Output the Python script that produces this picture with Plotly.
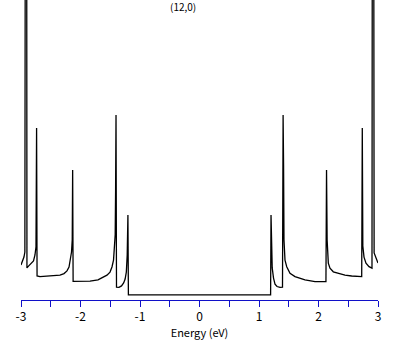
import plotly.graph_objects as go

# Density of states of a (12,0) nanotube
energy = [
    -3.000, -2.975, -2.950, -2.935, -2.927, -2.905, -2.900, -2.874, -2.832, -2.790,
    -2.765, -2.748, -2.738, -2.730, -2.681, -2.597, -2.513, -2.429, -2.345, -2.277,
    -2.227, -2.193, -2.168, -2.151, -2.139, -2.132, -2.124, -2.008, -1.840, -1.706,
    -1.622, -1.555, -1.504, -1.471, -1.445, -1.429, -1.417, -1.410, -1.403, -1.395,
    -1.353, -1.311, -1.275, -1.250, -1.230, -1.215, -1.203, -1.195,
    1.195, 1.202, 1.212, 1.222, 1.244, 1.269, 1.303, 1.353, 1.395, 1.405,
    1.413, 1.420, 1.437, 1.466, 1.521, 1.605, 1.773, 1.941, 2.125, 2.135,
    2.145, 2.165, 2.193, 2.249, 2.333, 2.445, 2.558, 2.726, 2.736, 2.745,
    2.765, 2.798, 2.849, 2.899, 2.905, 2.927, 2.935, 2.960, 2.990, 3.000,
]
dos = [
    1.17, 1.30, 1.43, 1.60, 15.0, 15.0, 1.07, 1.13, 1.20, 1.30,
    1.50, 1.77, 5.73, 0.80, 0.78, 0.79, 0.80, 0.82, 0.83, 0.88,
    0.97, 1.10, 1.33, 1.60, 2.00, 4.33, 0.62, 0.62, 0.63, 0.67,
    0.75, 0.83, 0.93, 1.10, 1.33, 1.67, 2.17, 3.67, 6.17, 0.43,
    0.42, 0.47, 0.57, 0.70, 0.93, 1.50, 2.83, 0.17,
    0.17, 2.83, 1.50, 1.07, 0.73, 0.53, 0.45, 0.42, 0.43, 6.17,
    4.50, 2.00, 1.33, 1.11, 0.89, 0.78, 0.67, 0.61, 0.61, 4.33,
    2.00, 1.23, 1.06, 0.94, 0.89, 0.83, 0.80, 0.78, 5.73, 1.80,
    1.43, 1.23, 1.11, 1.06, 15.0, 15.0, 1.57, 1.40, 1.28, 1.23,
]

tick_vals = [-3, -2.5, -2, -1.5, -1, -0.5, 0, 0.5, 1, 1.5, 2, 2.5, 3]
tick_text = ["-3", "", "-2", "", "-1", "", "0", "", "1", "", "2", "", "3"]
title_text = "(12,0)"
x_title = "Energy (eV)"

fig = go.Figure()
fig.add_trace(go.Scatter(
    x=energy, y=dos, mode="lines",
    line=dict(color="black", width=1.3),
    hoverinfo="skip", showlegend=False,
))

fig.update_layout(
    width=409, height=345,
    margin=dict(l=21, r=31, t=0, b=45, pad=0),
    paper_bgcolor="white", plot_bgcolor="white",
    font=dict(family="Noto Sans CJK JP, sans-serif", color="black", size=11),
    xaxis=dict(
        range=[-3, 3], showgrid=False, zeroline=False,
        showline=True, linecolor="#1010c8", linewidth=1,
        ticks="outside", ticklen=6, tickwidth=1, tickcolor="#1010c8",
        tickvals=tick_vals, ticktext=tick_text,
        tickfont=dict(size=12, color="black"),
        title=dict(text=x_title, font=dict(size=11, color="black"), standoff=2),
    ),
    yaxis=dict(range=[0, 10], visible=False),
    annotations=[dict(
        text=title_text, x=0.454, y=0.98, xref="paper", yref="paper",
        xanchor="center", yanchor="middle", showarrow=False,
        font=dict(size=10, color="black"),
    )],
)

fig.write_html(
    "out.html",
    config={"displayModeBar": False, "staticPlot": True},
    post_script="document.body.style.margin='0';document.body.style.padding='0';",
)
